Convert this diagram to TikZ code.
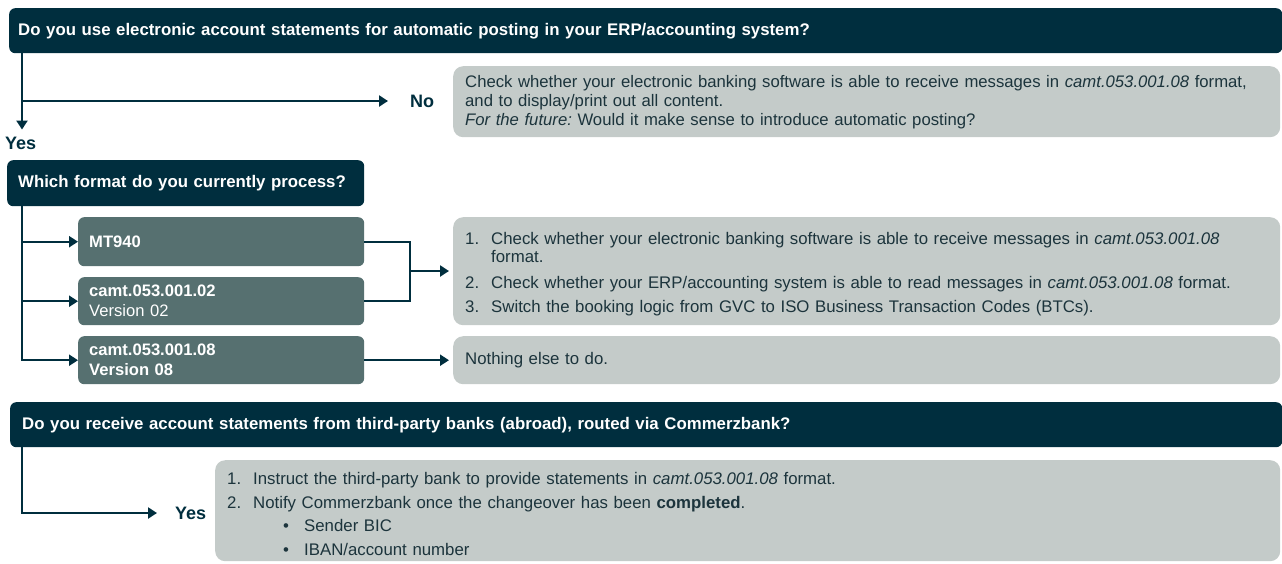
\documentclass[tikz,border=0pt]{standalone}
\usepackage{fontspec}
\setmainfont{Liberation Sans}
\usetikzlibrary{arrows.meta}

\definecolor{darkbar}{RGB}{0,46,62}
\definecolor{slatebox}{RGB}{86,112,112}
\definecolor{notebox}{RGB}{196,203,201}
\definecolor{notetext}{RGB}{28,52,60}

% numbered and bulleted lines inside the grey notes
\newcommand{\numline}[2]{\par\hangindent=26pt\hangafter=1\noindent\makebox[26pt][l]{#1}#2}
\newcommand{\dotline}[1]{\par\noindent\hspace*{26pt}\makebox[51pt][l]{\hspace*{30pt}\textbullet}#1}

\tikzset{
  question/.style={anchor=north west, fill=darkbar, text=white, rounded corners=6pt,
    inner ysep=0pt, align=left, font=\bfseries\fontsize{16.8}{19}\selectfont},
  format/.style={anchor=north west, fill=slatebox, text=white, rounded corners=6pt,
    inner xsep=11pt, inner ysep=0pt, align=left, minimum width=286pt, text width=264pt,
    font=\fontsize{16.6}{20}\selectfont},
  note/.style={anchor=north west, fill=notebox, text=notetext, rounded corners=10pt,
    inner xsep=12pt, inner ysep=0pt, align=left, font=\fontsize{16.8}{18}\selectfont},
  answer/.style={anchor=west, inner sep=0pt, text=darkbar, font=\bfseries\fontsize{18}{20}\selectfont},
  line/.style={draw=darkbar, line width=2.2pt},
  flow/.style={line, -{Triangle[length=9pt,width=11pt]}},
}

\begin{document}
\frenchspacing
\begin{tikzpicture}[x=1pt,y=-1pt]
  \useasboundingbox (0,0) rectangle (1282,563);

  % first question
  \node[question, minimum width=1273pt, minimum height=45pt, inner xsep=9pt, text width=1255pt]
    (q1) at (9,8) {Do you use electronic account statements for automatic posting in your ERP/accounting system?};
  \node[answer] (no1) at (410,101) {No};
  \node[answer] (yes1) at (5,143) {Yes};
  \node[note, minimum width=827pt, minimum height=71pt, text width=803pt,
        font=\fontsize{16.7}{19}\selectfont] (nonote) at (453,66)
    {Check whether your electronic banking software is able to receive messages in \textit{camt.053.001.08} format,\newline
     and to display/print out all content.\newline
     \textit{For the future:} Would it make sense to introduce automatic posting?};

  % second question
  \node[question, minimum width=357pt, minimum height=46pt, inner xsep=11pt, text width=335pt]
    (q2) at (7,160) {Which format do you currently process?};
  \node[format, minimum height=49pt] (mt940) at (78,217) {\textbf{MT940}};
  \node[format, minimum height=48pt] (camt02) at (78,277) {\textbf{camt.053.001.02}\\Version 02};
  \node[format, minimum height=48pt] (camt08) at (78,336) {\textbf{camt.053.001.08}\\\textbf{Version 08}};
  \node[note, minimum width=827pt, minimum height=108pt, text width=803pt] (steps) at (453,217)
    {\numline{1.}{Check whether your electronic banking software is able to receive messages in \textit{camt.053.001.08}\newline format.}
     \par\vspace{8pt}
     \numline{2.}{Check whether your ERP/accounting system is able to read messages in \textit{camt.053.001.08} format.}
     \par\vspace{6pt}
     \numline{3.}{Switch the booking logic from GVC to ISO Business Transaction Codes (BTCs).}};
  \node[note, minimum width=827pt, minimum height=48pt, text width=803pt] (done) at (453,336)
    {Nothing else to do.};

  % third question
  \node[question, minimum width=1272pt, minimum height=45pt, inner xsep=12pt, text width=1248pt]
    (q3) at (10,402) {Do you receive account statements from third-party banks (abroad), routed via Commerzbank?};
  \node[answer] (yes2) at (175,513) {Yes};
  \node[note, minimum width=1065pt, minimum height=101pt, text width=1041pt] (thirdnote) at (215,460)
    {\numline{1.}{Instruct the third-party bank to provide statements in \textit{camt.053.001.08} format.}
     \par\vspace{6pt}
     \numline{2.}{Notify Commerzbank once the changeover has been \textbf{completed}.}
     \par\vspace{5pt}
     \dotline{Sender BIC}
     \par\vspace{6pt}
     \dotline{IBAN/account number}};

  % connectors
  \coordinate (rail) at (22,0);
  \coordinate (merge) at (410,271);
  \draw[flow, shorten >=7pt] (q1.south -| rail) -- (yes1.north -| rail);
  \draw[flow, shorten >=22pt] (rail |- no1.west) -- (no1.west);
  \draw[flow] (q2.south -| rail) |- (camt08.west);
  \draw[flow] (rail |- mt940.west) -- (mt940.west);
  \draw[flow] (rail |- camt02.west) -- (camt02.west);
  \draw[line] (mt940.east) -| (merge) |- (camt02.east);
  \draw[flow, shorten >=4pt] (merge) -- (merge -| steps.west);
  \draw[flow, shorten >=4pt] (camt08.east) -- (done.west);
  \draw[flow, shorten >=18pt] (q3.south -| rail) |- (yes2.west);
\end{tikzpicture}
\end{document}
